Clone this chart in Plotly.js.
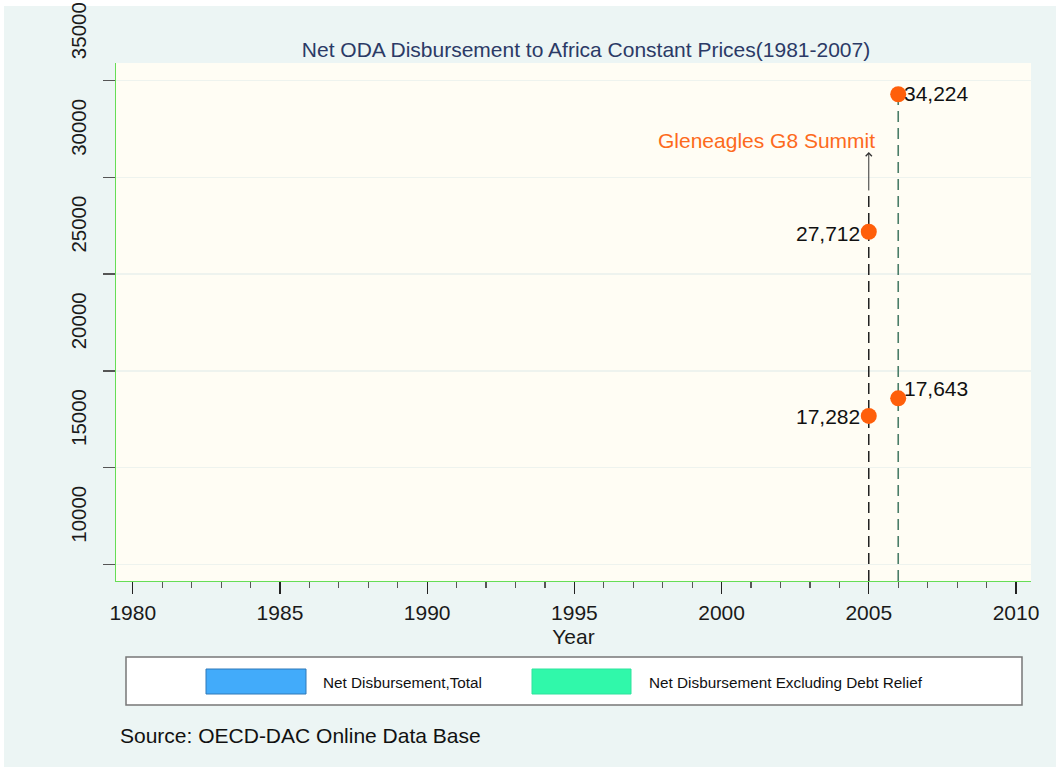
<!DOCTYPE html>
<html>
<head>
<meta charset="utf-8">
<script src="https://cdn.plot.ly/plotly-3.0.1.min.js"></script>
<style>
  html, body { margin: 0; padding: 0; background: #ffffff; }
  #chart { position: absolute; left: 4px; top: 0px; width: 1052px; height: 767px; }
</style>
</head>
<body>
<div id="chart"></div>
<script>
// ---- data ----
const years = [2005, 2006];
const totalValues = [27190, 34300];          // Net Disbursement, Total (plotted position)
const totalLabels = ['27,712', '34,224'];
const exclValues = [17670, 18580];            // Net Disbursement Excluding Debt Relief (plotted position)
const exclLabels = ['17,282', '17,643'];
const seriesNames = ['Net Disbursement,Total', 'Net Disbursement Excluding Debt Relief'];
const seriesColors = ['#42abfa', '#30f8aa'];
const seriesBorders = ['#2f78b8', '#2ee39d'];
const summitYear = 2005;
const summitText = 'Gleneagles G8 Summit';
const summitLineTop = 29250;
const summitArrowHead = 31310;
const summitTextY = 31930;
const yTickVals = [10000, 15000, 20000, 25000, 30000, 35000];
const yTickText = ['10000', '15000', '20000', '25000', '30000', '35000'];
const xTickVals = [1980, 1985, 1990, 1995, 2000, 2005, 2010];
const xTickText = ['1980', '1985', '1990', '1995', '2000', '2005', '2010'];
const yRange = [9137, 35915];
const xRange = [1979.43, 2010.51];

const FONT = 'Arial, "Liberation Sans", Helvetica, sans-serif';

// plot-area geometry (div pixels) for paper-coordinate helpers
const W = 1052, H = 767;
const M = { l: 112, r: 25, t: 63, b: 186 };
const offX = 4, offY = 0; // div offset on page
const pw = W - M.l - M.r, ph = H - M.t - M.b;
const PX = sx => (sx - offX - M.l) / pw;
const PY = sy => (H - M.b - (sy - offY)) / ph;

const traces = [
  { x: [summitYear, summitYear], y: [yRange[0], summitLineTop], mode: 'lines',
    line: { color: '#111111', width: 1.4, dash: '11px,6px' }, hoverinfo: 'skip', showlegend: false },
  { x: [years[1], years[1]], y: [yRange[0], totalValues[1]], mode: 'lines',
    line: { color: '#4a7d68', width: 1.6, dash: '11px,6px' }, hoverinfo: 'skip', showlegend: false },
  { x: years, y: totalValues, mode: 'markers', name: seriesNames[0],
    marker: { color: '#ff5f0a', size: 16, line: { width: 0 } }, showlegend: false },
  { x: years, y: exclValues, mode: 'markers', name: seriesNames[1],
    marker: { color: '#ff5f0a', size: 16, line: { width: 0 } }, showlegend: false }
];

const annotations = [
  { x: years[0], y: totalValues[0], text: totalLabels[0], showarrow: false, xanchor: 'right', yanchor: 'middle',
    xshift: -7, yshift: -2, font: { family: FONT, size: 21, color: '#111' } },
  { x: years[1], y: totalValues[1], text: totalLabels[1], showarrow: false, xanchor: 'left', yanchor: 'middle',
    xshift: 4, yshift: 1, font: { family: FONT, size: 21, color: '#111' } },
  { x: years[0], y: exclValues[0], text: exclLabels[0], showarrow: false, xanchor: 'right', yanchor: 'middle',
    xshift: -7, yshift: -1, font: { family: FONT, size: 21, color: '#111' } },
  { x: years[1], y: exclValues[1], text: exclLabels[1], showarrow: false, xanchor: 'left', yanchor: 'middle',
    xshift: 4, yshift: 10, font: { family: FONT, size: 21, color: '#111' } },
  { x: summitYear, y: summitTextY, text: summitText, showarrow: false, xanchor: 'right', yanchor: 'middle',
    xshift: 8, font: { family: FONT, size: 21, color: '#fd6a1c' } },
  { x: summitYear, y: summitArrowHead, ax: summitYear, ay: summitLineTop, axref: 'x', ayref: 'y', text: '',
    showarrow: true, arrowhead: 4, arrowsize: 1.2, arrowwidth: 1, arrowcolor: '#333' },
  // legend labels
  { xref: 'paper', yref: 'paper', x: PX(321), y: PY(682), text: seriesNames[0], showarrow: false,
    xanchor: 'left', yanchor: 'middle', font: { family: FONT, size: 15.3, color: '#111' } },
  { xref: 'paper', yref: 'paper', x: PX(647), y: PY(682), text: seriesNames[1], showarrow: false,
    xanchor: 'left', yanchor: 'middle', font: { family: FONT, size: 15.3, color: '#111' } },
  // source
  { xref: 'paper', yref: 'paper', x: PX(118), y: PY(735), text: 'Source: OECD-DAC Online Data Base', showarrow: false,
    xanchor: 'left', yanchor: 'middle', font: { family: FONT, size: 21, color: '#111' } }
];

const shapes = [
  // white strip at the very top of the page
  { type: 'rect', xref: 'paper', yref: 'paper', x0: PX(0), x1: PX(1060), y0: PY(0), y1: PY(6),
    fillcolor: '#ffffff', line: { width: 0 }, layer: 'below' },
  { type: 'rect', xref: 'paper', yref: 'paper', x0: PX(126), x1: PX(1022), y0: PY(657), y1: PY(705),
    fillcolor: '#ffffff', line: { color: '#777777', width: 1.5 } },
  { type: 'rect', xref: 'paper', yref: 'paper', x0: PX(206), x1: PX(306), y0: PY(669), y1: PY(694),
    fillcolor: seriesColors[0], line: { color: seriesBorders[0], width: 1 } },
  { type: 'rect', xref: 'paper', yref: 'paper', x0: PX(532), x1: PX(631), y0: PY(669), y1: PY(694),
    fillcolor: seriesColors[1], line: { color: seriesBorders[1], width: 1 } }
];

const layout = {
  width: W, height: H,
  margin: M,
  paper_bgcolor: '#ecf5f4',
  plot_bgcolor: '#fffdf4',
  font: { family: FONT, color: '#111' },
  showlegend: false,
  title: { text: 'Net ODA Disbursement to Africa Constant Prices(1981-2007)',
    font: { family: FONT, size: 21, color: '#2b3a66' },
    x: PX(586), xref: 'paper', xanchor: 'center', y: 1 - (50 - offY) / H, yref: 'container', yanchor: 'middle' },
  xaxis: {
    range: xRange, tickvals: xTickVals, ticktext: xTickText, ticks: 'outside', ticklen: 12, tickwidth: 1.3, tickcolor: '#222',
    minor: { dtick: 1, tick0: 1980, ticks: 'outside', ticklen: 6, tickwidth: 1.2, tickcolor: '#555', showgrid: false },
    showgrid: false, zeroline: false, showline: true, linecolor: '#66dd55', linewidth: 1.3,
    tickfont: { family: FONT, size: 21, color: '#1a1a1a' },
    title: { text: 'Year', font: { family: FONT, size: 21, color: '#1a1a1a' }, standoff: 6 }
  },
  yaxis: {
    range: yRange, tickvals: yTickVals, ticktext: yTickText, ticks: 'outside', ticklen: 12, tickwidth: 1.5, tickcolor: '#555',
    showgrid: true, gridcolor: '#eef3ee', gridwidth: 1.5, zeroline: false,
    showline: true, linecolor: '#66dd55', linewidth: 1.5,
    tickangle: -90, ticklabelshift: -47, ticklabelstandoff: 8, ticklabeloverflow: 'allow',
    tickfont: { family: FONT, size: 20.5, color: '#1a1a1a' }
  },
  annotations: annotations,
  shapes: shapes
};

Plotly.newPlot('chart', traces, layout, { displayModeBar: false, staticPlot: true });
</script>
</body>
</html>
